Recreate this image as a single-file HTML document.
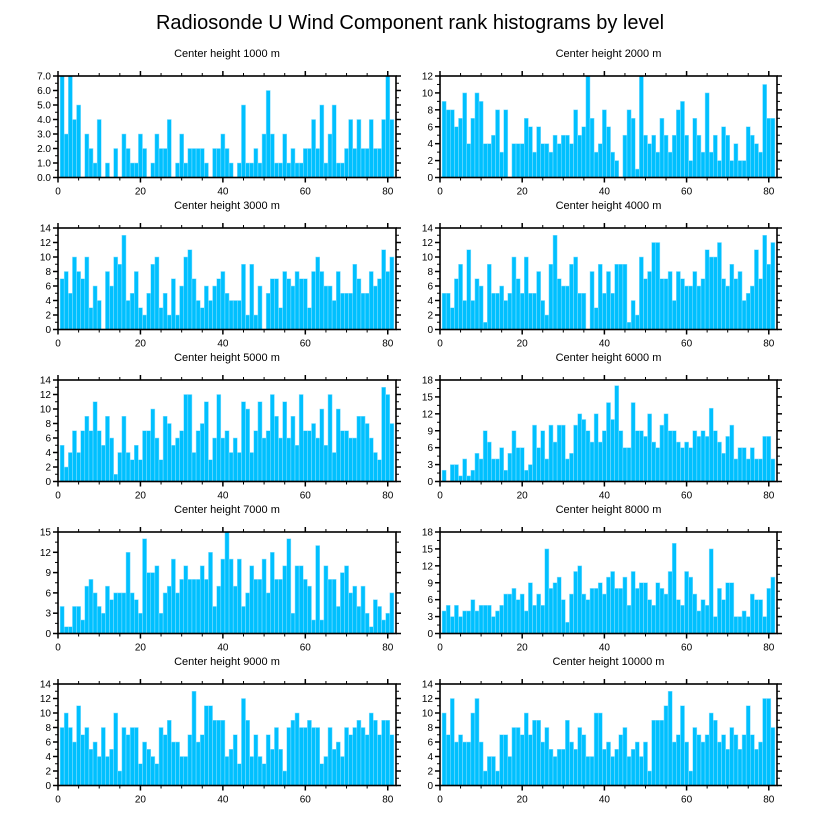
<!DOCTYPE html>
<html><head><meta charset="utf-8"><style>
body{margin:0;background:#fff;}
svg{display:block;font-family:"Liberation Sans",sans-serif;}
</style></head><body>
<svg id="chart" width="818" height="824" viewBox="0 0 818 824">
<text x="410" y="29" text-anchor="middle" font-size="20">Radiosonde U Wind Component rank histograms by level</text>
</svg>
<script>
const levels = ["1000","2000","3000","4000","5000","6000","7000","8000","9000","10000"];
const h1000 = [7,3,7,4,5,0,3,2,1,4, 0,1,0,2,0,3,2,1,1,3, 2,0,1,3,2,2,4,0,1,3, 1,2,2,2,2,1,0,2,2,3, 2,1,0,1,5,1,1,2,1,3, 6,3,1,1,3,1,2,1,1,2, 2,4,2,5,1,3,5,1,1,2, 4,2,4,2,2,4,2,2,4,7,4];
const h2000 = [9,8,8,6,7,10,4,7,10,9, 4,4,5,8,3,8,0,4,4,4, 7,6,3,6,4,4,3,5,4,5, 5,4,8,5,6,12,7,3,4,8, 6,3,2,0,5,8,7,1,12,5, 4,5,3,7,5,3,5,8,9,5, 2,7,5,3,10,3,5,2,6,5, 2,4,2,2,6,5,4,3,11,7,7];
const h3000 = [7,8,5,10,8,7,10,3,6,4, 0,8,6,10,9,13,4,5,8,3, 2,5,9,10,3,5,2,7,2,6, 10,11,7,4,3,6,4,6,7,8, 5,4,4,4,9,2,9,2,6,0, 5,7,7,3,8,7,6,8,7,7, 3,8,10,8,6,6,4,8,5,5, 5,9,7,5,5,8,6,7,11,8,10];
const h4000 = [5,5,3,7,9,4,11,4,7,6, 1,9,5,5,6,4,5,10,7,5, 10,5,5,8,4,2,9,13,7,6, 6,9,10,5,5,0,8,3,9,5, 8,5,9,9,9,1,4,2,10,7, 8,12,12,7,7,8,4,8,7,6, 6,8,6,7,11,10,10,12,7,6, 9,7,8,4,5,6,11,7,13,9,12];
const h5000 = [5,2,4,7,4,7,9,7,11,7, 5,9,6,1,4,9,4,3,5,3, 7,7,10,6,3,9,8,5,6,7, 12,12,4,7,8,11,3,6,12,6, 7,4,6,4,11,10,4,7,11,6, 7,12,9,6,11,6,9,5,12,7, 7,8,6,10,5,12,4,10,7,7, 6,6,9,9,8,6,4,3,13,12,8];
const h6000 = [2,0,3,3,1,4,1,2,5,4, 9,7,4,4,6,2,5,9,6,6, 2,3,10,6,9,4,10,7,10,10, 4,5,10,12,11,9,7,12,7,9, 14,11,17,9,6,6,14,9,9,8, 12,7,6,10,12,9,9,7,6,7, 6,9,8,9,8,13,9,7,5,8, 10,4,6,6,4,6,4,4,8,8,4];
const h7000 = [4,1,1,4,4,2,7,8,6,4, 3,7,5,6,6,6,12,6,5,3, 14,9,9,10,3,6,7,11,6,8, 10,8,8,8,10,8,12,4,7,11, 15,11,7,11,4,6,10,8,8,11, 6,12,8,8,10,14,3,10,10,8, 7,2,13,2,10,8,8,4,9,10, 6,7,4,7,3,1,5,4,2,3,6];
const h8000 = [4,5,3,5,3,4,4,6,4,5, 5,5,3,4,5,7,7,8,6,7, 4,9,5,7,5,15,8,9,10,6, 2,7,11,12,7,6,8,8,9,7, 10,11,8,8,10,5,11,8,9,9, 6,5,9,8,7,11,16,6,5,11, 10,7,4,6,5,15,3,8,6,9, 9,3,3,4,3,7,6,6,3,8,10];
const h9000 = [8,10,8,6,11,7,8,5,6,4, 8,4,5,10,2,8,7,8,8,3, 6,5,4,3,8,7,9,6,6,4, 4,7,13,6,7,11,11,9,9,9, 4,5,7,3,12,9,4,7,4,3, 7,5,8,5,2,8,9,10,8,8, 9,8,8,3,4,8,5,6,4,8, 7,8,9,8,7,10,9,7,9,9,7];
const h10000 = [10,7,12,6,7,6,6,10,12,6, 2,4,4,2,7,7,4,8,8,7, 10,7,9,9,6,8,5,4,5,5, 9,6,5,8,7,4,4,10,10,5, 6,4,5,7,8,4,5,6,4,6, 2,9,9,9,11,13,6,7,11,6, 2,8,7,6,7,10,9,6,7,5, 8,7,5,7,11,7,5,6,12,12,8];
const yMaxes = [7,12,14,14,14,18,15,18,14,14];
const ySteps = [1,2,2,2,2,3,3,3,2,2];
const xTicks = [0,20,40,60,80];
const series = [h1000,h2000,h3000,h4000,h5000,h6000,h7000,h8000,h9000,h10000];

const NS = "http://www.w3.org/2000/svg";
const svg = document.getElementById('chart');
function mk(tag, attrs, parent){const e=document.createElementNS(NS,tag);for(const k in attrs)e.setAttribute(k,attrs[k]);(parent||svg).appendChild(e);return e;}
const lefts=[58,440], widths=[338,337], tops=[76,228,380,532,684], H=101.5, XMAX=82;

series.forEach((vals,p)=>{
  const col=p%2,row=Math.floor(p/2);
  const L=lefts[col],W=widths[col],T=tops[row],B=T+H;
  const ymax=yMaxes[p],step=ySteps[p];
  const xs=v=>L+v/XMAX*W, ys=v=>B-v/ymax*H;
  const g=mk('g',{});
  
  
  const t=mk('text',{x:L+W/2,y:T-19,'text-anchor':'middle','font-size':'11'},g);
  t.textContent='Center height '+levels[p]+' m';
  
  
  vals.forEach((v,i)=>{
    const r=i+1;
    if(v<=0)return;
    const b=mk('rect',{x:xs(r-0.5),y:ys(v),width:xs(r+0.5)-xs(r-0.5),height:B-ys(v),fill:'#00c0ff',stroke:'#8fe0ff','stroke-width':'0.5'},g);
    
    
  });
  // x ticks
  for(let v=0;v<=80;v+=5){
    const maj=v%20===0,len=maj?5:3;
    mk('line',{x1:xs(v),x2:xs(v),y1:B,y2:B+len,stroke:'#000','stroke-width':maj?1.5:1},g);
    mk('line',{x1:xs(v),x2:xs(v),y1:T,y2:T-len,stroke:'#000','stroke-width':maj?1.5:1},g);
  }
  xTicks.forEach(v=>{
    const tl=mk('text',{x:xs(v),y:B+17,'text-anchor':'middle','font-size':'10'},g);
    tl.textContent=v;
    
    
  });
  // y ticks
  for(let k=0;k<=ymax/step*2;k++){
    const v=k*step/2,maj=k%2===0,len=maj?5:3;
    mk('line',{x1:L,x2:L-len,y1:ys(v),y2:ys(v),stroke:'#000','stroke-width':maj?1.5:1},g);
    mk('line',{x1:L+W,x2:L+W+len,y1:ys(v),y2:ys(v),stroke:'#000','stroke-width':maj?1.5:1},g);
    if(maj){
      const yl=mk('text',{x:L-7,y:ys(v)+3.5,'text-anchor':'end','font-size':'10'},g);
      yl.textContent=p===0?v.toFixed(1):v;
      
      
    }
  }
  const f=mk('rect',{x:L,y:T,width:W,height:H,fill:'none',stroke:'#000','stroke-width':'1.6'},g);
  
  
});
</script>
</body></html>
